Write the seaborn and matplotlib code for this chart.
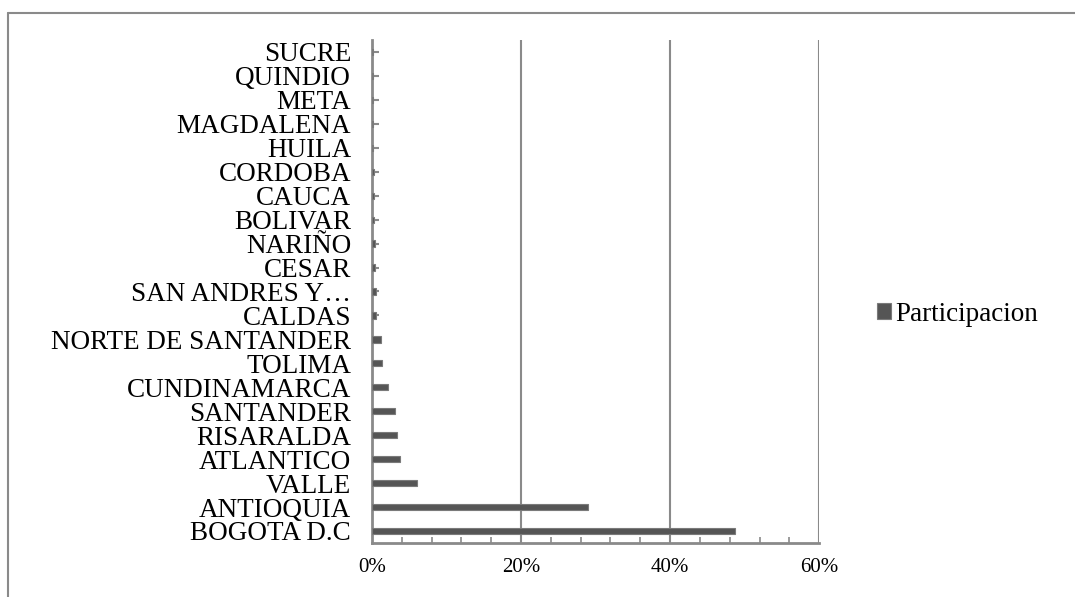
import numpy as np
import pandas as pd
import seaborn as sns
import matplotlib.pyplot as plt
from matplotlib.ticker import MultipleLocator, PercentFormatter

# departamentos de arriba hacia abajo (como en el grafico)
departamentos = ['SUCRE', 'QUINDIO', 'META', 'MAGDALENA', 'HUILA', 'CORDOBA',
                 'CAUCA', 'BOLIVAR', 'NARIÑO', 'CESAR', 'SAN ANDRES Y…',
                 'CALDAS', 'NORTE DE SANTANDER', 'TOLIMA', 'CUNDINAMARCA',
                 'SANTANDER', 'RISARALDA', 'ATLANTICO', 'VALLE', 'ANTIOQUIA',
                 'BOGOTA D.C']
participacion = [0.2, 0.2, 0.2, 0.2, 0.2, 0.3, 0.3, 0.3, 0.4, 0.4, 0.5,
                 0.6, 1.2, 1.3, 2.2, 3.1, 3.3, 3.7, 6.0, 29.0, 48.7]
xticks = [0, 20, 40, 60]

df = pd.DataFrame({'dep': departamentos, 'Participacion': participacion})

sns.set_style('white')
plt.rcParams['font.family'] = ['Liberation Serif', 'DejaVu Serif']
plt.rcParams['text.color'] = 'black'
plt.rcParams['xtick.labelcolor'] = 'black'
plt.rcParams['ytick.labelcolor'] = 'black'

fig = plt.figure(figsize=(10.75, 5.97), dpi=100)
ax = fig.add_axes([0.346, 0.0905, 0.416, 0.8425])

sns.barplot(data=df, x='Participacion', y='dep', order=departamentos,
            orient='h', color='#555555', edgecolor='#7a7a7a', linewidth=0.8,
            width=0.26, saturation=1, label='Participacion', ax=ax, zorder=3)

gris = '#8a8a8a'
ax.set_xlim(0, 60)
ax.set_xticks(xticks)
ax.xaxis.set_major_formatter(PercentFormatter(decimals=0))
ax.xaxis.set_minor_locator(MultipleLocator(4))
ax.grid(axis='x', color=gris, linewidth=1.5, zorder=1)
ax.grid(axis='y', visible=False)
ax.set_xlabel('')
ax.set_ylabel('')

for s in ['top', 'right']:
    ax.spines[s].set_visible(False)
for s in ['left', 'bottom']:
    ax.spines[s].set_color(gris)
    ax.spines[s].set_linewidth(2)

ax.tick_params(axis='y', direction='in', length=5, width=1.5, color=gris,
               pad=15, labelsize=19.5, left=True)
ax.tick_params(axis='x', which='major', direction='in', length=0, pad=11,
               labelsize=15)
ax.tick_params(axis='x', which='minor', direction='in', length=4, width=1.2,
               color=gris, bottom=True)

ax.legend(loc='center left', bbox_to_anchor=(0.816, 0.474),
          bbox_transform=fig.transFigure, frameon=False, fontsize=19.5,
          handlelength=0.52, handleheight=0.52, handletextpad=0.15,
          borderaxespad=0, borderpad=0)

# marco exterior
fig.add_artist(plt.Line2D([0.0075, 1.0], [0.978, 0.978], color=gris,
                          linewidth=1.5, transform=fig.transFigure))
fig.add_artist(plt.Line2D([0.0075, 0.0075], [0.0, 0.978], color=gris,
                          linewidth=1.5, transform=fig.transFigure))

fig.savefig('out.png', dpi=100)
